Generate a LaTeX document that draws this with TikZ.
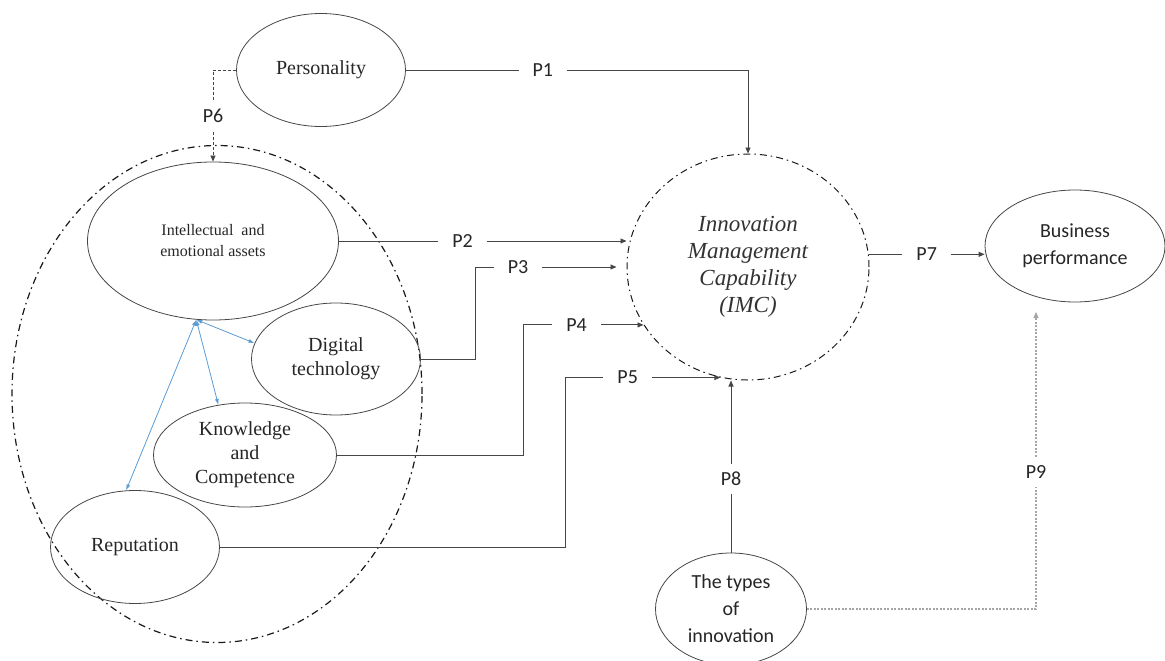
\documentclass[tikz,border=0pt]{standalone}
\usepackage{fontspec}
\setmainfont{Liberation Serif}
\newfontfamily\calibri{Carlito}
\usetikzlibrary{arrows.meta, positioning, shapes.geometric}
\definecolor{linkblue}{RGB}{91,155,213}
\definecolor{inkgray}{RGB}{70,70,70}

\begin{document}
\begin{tikzpicture}[
  x=1pt, y=-1pt,
  entity/.style={draw=inkgray, ellipse, line width=0.8pt, inner sep=0pt, align=center, text=black!85, font=\fontsize{20}{24}\selectfont},
  sansentity/.style={entity, font=\calibri\fontsize{20}{27}\selectfont},
  group/.style={draw=black!90, ellipse, line width=1.2pt, dash pattern=on 7pt off 4pt on 1.5pt off 4pt},
  plabel/.style={fill=white, text=black!85, font=\calibri\fontsize{20}{24}\selectfont, inner xsep=14pt, inner ysep=1pt},
  arrow/.style={-{Triangle[length=6pt,width=5pt]}, line width=0.9pt, draw=inkgray},
  assoc/.style={{Latex[length=6pt,width=4pt]}-{Latex[length=6pt,width=4pt]}, line width=0.8pt, draw=linkblue}
]
  \useasboundingbox (0,0) rectangle (1165,661);

  % resources group
  \node[group, minimum width=410pt, minimum height=497pt] (assets) at (217,394) {};

  \node[entity, minimum width=169pt, minimum height=113pt] (pers) at (321,70) {Personality};
  \node[entity, minimum width=251pt, minimum height=158pt, font=\fontsize{16}{21}\selectfont] (intel) at (213,241) {Intellectual\enspace and\\emotional assets};
  \node[entity, minimum width=169pt, minimum height=112pt] (digital) at (336,359) {Digital\\technology};
  \node[entity, minimum width=183pt, minimum height=104pt] (know) at (245,455) {Knowledge\\and\\Competence};
  \node[entity, minimum width=169pt, minimum height=113pt] (rep) at (135,547) {Reputation};

  \node[group, line width=1pt, minimum width=242pt, minimum height=226pt, align=center, text=black!80,
        font=\itshape\fontsize{23}{27}\selectfont] (imc) at (748,267) {Innovation\\Management\\Capability\\(IMC)};
  \node[sansentity, minimum width=180pt, minimum height=112pt] (perf) at (1075,246) {Business\\performance};
  \node[sansentity, minimum width=151pt, minimum height=112pt] (types) at (731,609) {The types\\of\\innovation};

  % links between resources
  \coordinate (hub) at (intel.258);
  \draw[assoc] (hub) -- (digital.169);
  \draw[assoc] (hub) -- (know.118);
  \draw[assoc] (hub) -- (rep.99);

  % propositions
  \draw[arrow] (pers.east) -| node[plabel, pos=0.2] {P1} (imc.north);
  \draw[arrow] (intel.east) -- node[plabel, pos=0.43] {P2} (intel.east -| imc.west);
  \draw[arrow] (digital.east) -- ++(55,0) |- node[plabel, pos=0.65] {P3} ([xshift=-10pt]imc.west);
  \draw[arrow] (know.east) -- ++(187,0) |- node[plabel, pos=0.72] {P4} (imc.209);
  \draw[arrow] (rep.east) -- ++(346,0) |- node[plabel, pos=0.7] {P5} (imc.256);
  \draw[arrow, -{Triangle[length=6pt,width=5pt]}, line width=0.7pt, dash pattern=on 3pt off 2pt]
    (pers.west) -| node[plabel, pos=0.75, inner xsep=2pt, inner ysep=8pt] {P6} (intel.north);
  \draw[arrow] (imc.6) -- node[plabel] {P7} (imc.6 -| perf.west);
  \draw[arrow] (types.north) -- node[plabel, pos=0.43, inner xsep=2pt, inner ysep=8pt] {P8} (types.north |- imc.south);
  \coordinate (p9end) at (1036,312);
  \draw[arrow, draw=gray!70, line width=1.3pt, dash pattern=on 2pt off 1.5pt]
    (types.east) -| node[plabel, pos=0.73, inner xsep=2pt, inner ysep=8pt] {P9} (p9end);
\end{tikzpicture}
\end{document}
